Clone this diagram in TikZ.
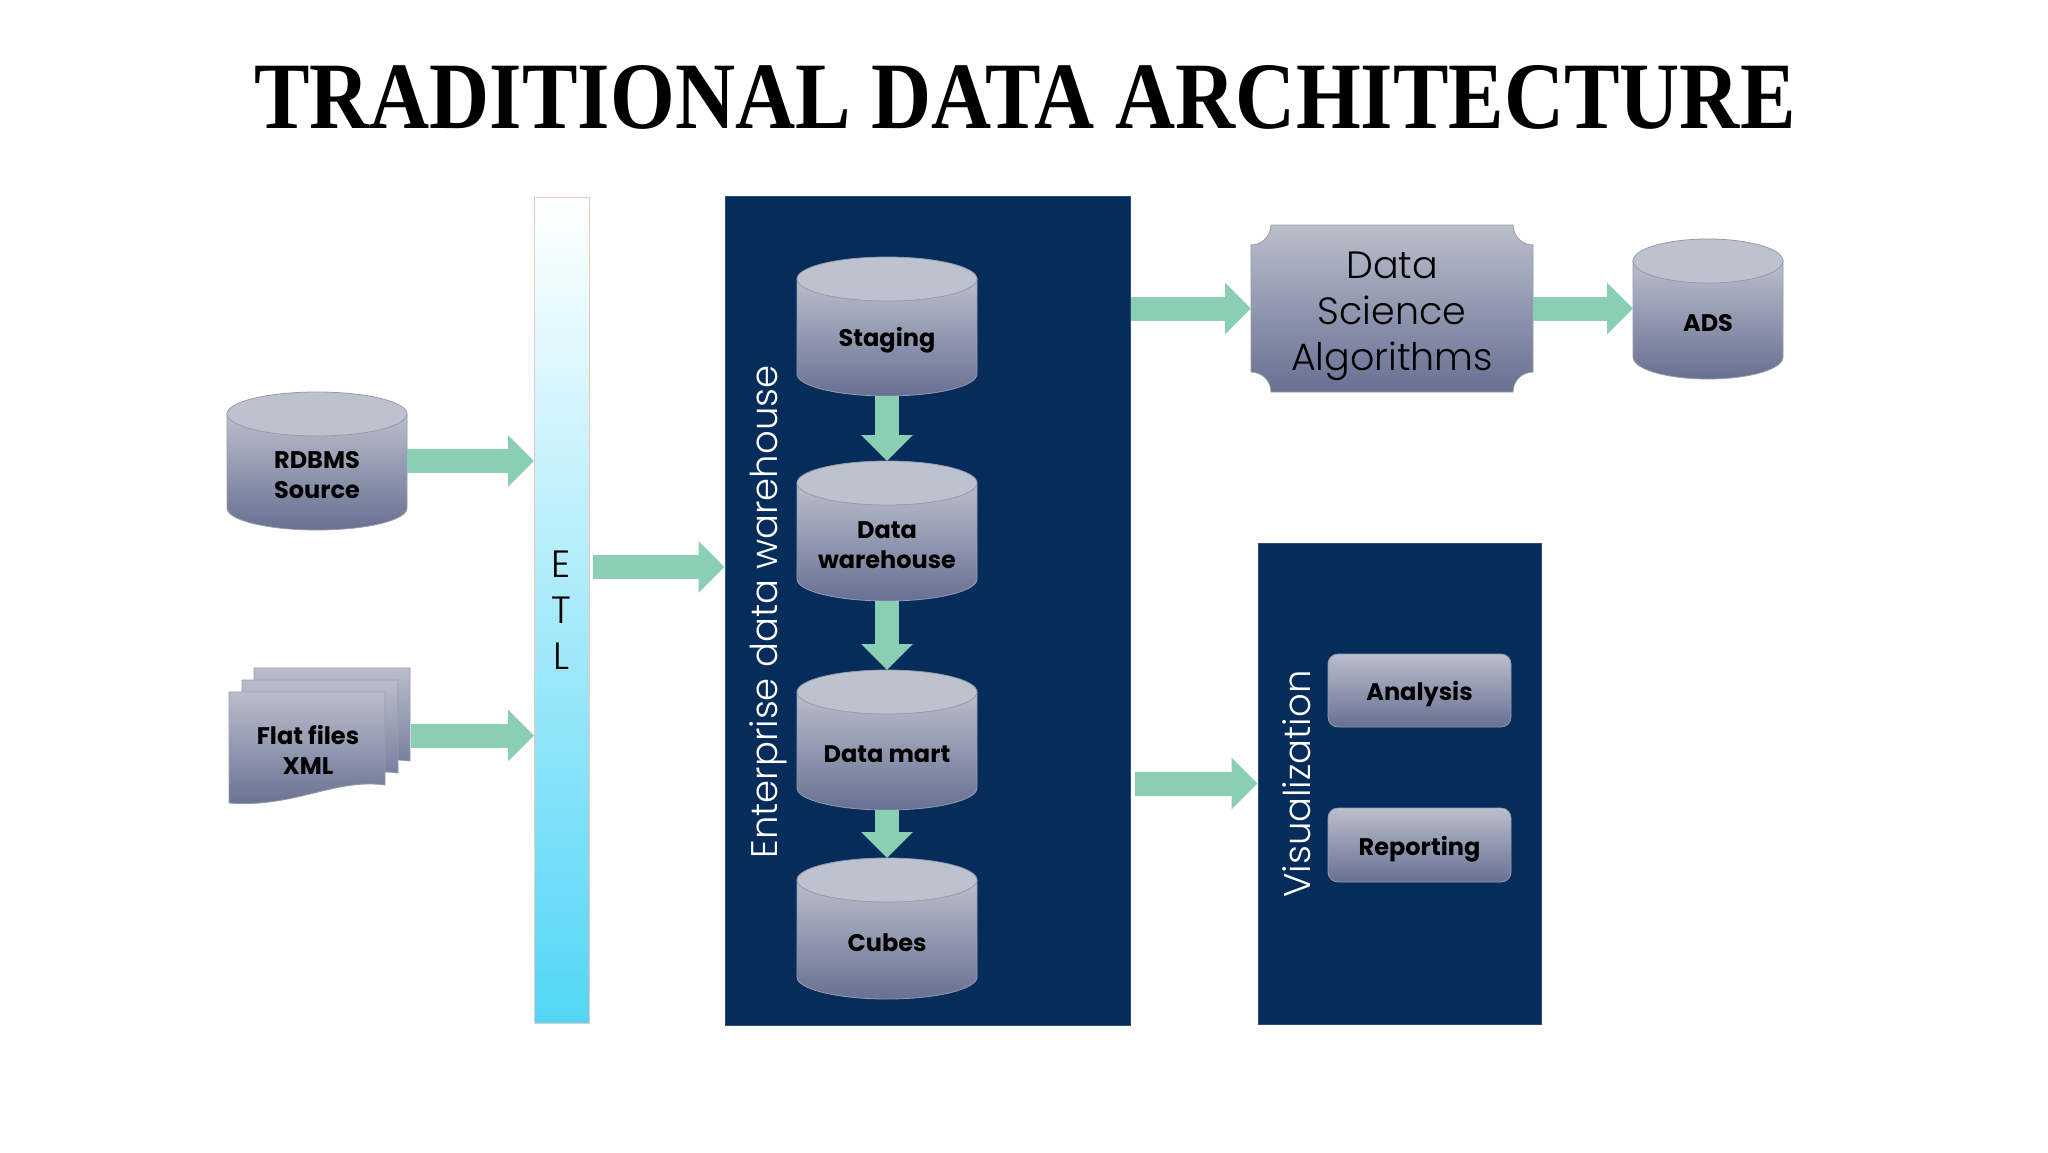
\documentclass[tikz,border=0pt]{standalone}
\usepackage{fontspec}
\setmainfont{Poppins}
\newfontfamily\lightfont{Poppins Light}
\newfontfamily\titlefont{Liberation Serif}
\usetikzlibrary{arrows.meta,calc}
\definecolor{navy}{RGB}{6,44,92}
\definecolor{navyline}{RGB}{40,80,122}
\definecolor{gtop}{RGB}{186,190,203}
\definecolor{gbot}{RGB}{104,112,147}
\definecolor{gcap}{RGB}{190,194,206}
\definecolor{gline}{RGB}{150,155,172}
\definecolor{mint}{RGB}{138,206,180}
\definecolor{etlbot}{RGB}{82,214,246}
\definecolor{etlline}{RGB}{238,200,188}
\tikzset{
  blk/.style={draw=mint, line width=24pt, -{Triangle[width=50pt,length=26pt]}},
  lbl/.style={font=\fontsize{24}{30}\selectfont\bfseries, align=center, inner sep=0pt},
  panel/.style={fill=navy, draw=navyline, line width=1pt, inner sep=0pt},
  rbox/.style={rounded corners=10pt, top color=gtop, bottom color=gbot, draw=gline, line width=0.8pt, inner sep=0pt, font=\fontsize{24}{30}\selectfont\bfseries},
  vtext/.style={rotate=90, text=white, font=\fontsize{37}{44}\selectfont\lightfont, inner sep=0pt},
  shell/.style={inner sep=0pt, outer sep=0pt}
}
\newcommand\dbcyl[6]{%
  \pgfmathsetmacro\myL{#2-#5}\pgfmathsetmacro\myR{#2+#5}%
  \pgfmathsetmacro\yA{#3+22}\pgfmathsetmacro\yB{#4-22}%
  \path[top color=gtop, bottom color=gbot, draw=gline, line width=0.8pt]
    (\myL,\yA) -- (\myL,\yB) .. controls (\myL,\yB+12.2) and (#2-0.552*#5,#4) .. (#2,#4)
    .. controls (#2+0.552*#5,#4) and (\myR,\yB+12.2) .. (\myR,\yB) -- (\myR,\yA) -- cycle;
  \path[fill=gcap, draw=gline, line width=0.8pt] (#2,\yA) ellipse [x radius=#5, y radius=22];
  \node[shell, minimum width=2*#5, minimum height=#4-#3] (#1) at (#2,{(#3+#4)/2}) {};
  \node[lbl] at (#2,{(#3+#4)/2+14}) {#6};
}
\newcommand\docshape[2]{%
  \path[top color=gtop, bottom color=gbot, draw=gline, line width=0.8pt, shift={(#1,#2)}]
    (229,692) -- (385,692) -- (385,785) .. controls (335,778) and (295,808) .. (229,803) -- cycle;
}
\begin{document}
\begin{tikzpicture}[x=1pt,y=-1pt]
\useasboundingbox (0,0) rectangle (2048,1152);
\fill[white] (0,0) rectangle (2048,1152);
% title
\node[anchor=base, inner sep=0pt] (title) at (1025,128) {\resizebox{1541pt}{63pt}{\titlefont\bfseries TRADITIONAL DATA ARCHITECTURE}};
% ETL bar
\node[shell, minimum width=55, minimum height=826, top color=white, bottom color=etlbot, draw=etlline, line width=0.8pt,
      align=center, font=\fontsize{38}{46}\selectfont\lightfont] (etl) at (561.5,610) {E\\T\\L};
% panels
\node[panel, minimum width=405, minimum height=829] (edw) at (927.5,610.5) {};
\node[vtext] at (768,612) {Enterprise data warehouse};
\node[panel, minimum width=283, minimum height=481] (vis) at (1399.5,783.5) {};
\node[vtext] at (1297,784) {Visualization};
% sources
\dbcyl{rdbms}{317}{392}{530}{90}{RDBMS\\Source}
\docshape{25}{-24}
\docshape{13}{-12}
\docshape{0}{0}
\node[shell, minimum width=182, minimum height=135] (ff) at (320,735.5) {};
\node[lbl] at (308,750) {Flat files\\XML};
% warehouse cylinders
\dbcyl{stg}{887}{257}{396}{90}{Staging}
\dbcyl{dw}{887}{461}{601}{90}{Data\\warehouse}
\dbcyl{dm}{887}{670}{810}{90}{Data mart}
\dbcyl{cub}{887}{858}{999}{90}{Cubes}
% data science plaque
\path[top color=gtop, bottom color=gbot, draw=gline, line width=0.8pt]
  (1271,225) -- (1513,225) .. controls (1513,236) and (1522,245) .. (1533,245)
  -- (1533,372) .. controls (1522,372) and (1513,381) .. (1513,392)
  -- (1271,392) .. controls (1271,381) and (1262,372) .. (1251,372)
  -- (1251,245) .. controls (1262,245) and (1271,236) .. (1271,225) -- cycle;
\node[shell, minimum width=282, minimum height=167] (ds) at (1392,308.5) {};
\node[align=center, inner sep=0pt, font=\fontsize{38}{46}\selectfont\lightfont] at (1392,316) {Data\\Science\\Algorithms};
\dbcyl{ads}{1708}{239}{379}{75}{ADS}
% visualization boxes
\node[rbox, minimum width=183, minimum height=73] (ana) at (1419.5,690.5) {};
\node[lbl] at (1419.5,694) {Analysis};
\node[rbox, minimum width=183, minimum height=74] (rep) at (1419.5,845) {};
\node[lbl] at (1419.5,849) {Reporting};
% arrows
\draw[blk] (rdbms.east) -- (etl.west |- rdbms.east);
\draw[blk] (ff.east) -- (etl.west |- ff.east);
\draw[blk] ($(etl.east |- 0,567)+(4,0)$) -- (edw.west |- 0,567);
\draw[blk] (edw.east |- ds.west) -- (ds.west);
\draw[blk] (ds.east) -- (ads.west |- ds.east);
\draw[blk] ($(edw.east |- vis.west)+(4,0)$) -- (vis.west);
\draw[blk] (stg.south) -- (dw.north);
\draw[blk] (dw.south) -- (dm.north);
\draw[blk] (dm.south) -- (cub.north);
\end{tikzpicture}
\end{document}
